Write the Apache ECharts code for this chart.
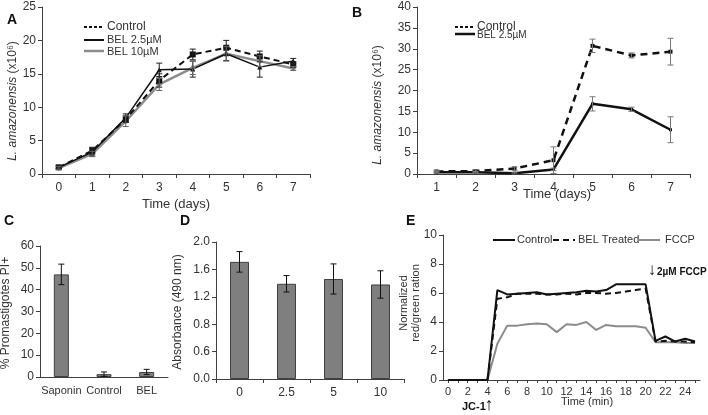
<!DOCTYPE html>
<html><head><meta charset="utf-8">
<script src="https://cdn.jsdelivr.net/npm/echarts@6/dist/echarts.min.js"></script>
<style>html,body{margin:0;padding:0;background:#fff}#c{width:708px;height:415px}</style>
</head><body><div id="c"></div>
<script>
// ---- Panel A ----
const daysA = ['0','1','2','3','4','5','6','7'];
const aControl = [1.0, 3.5, 8.2, 14.0, 17.9, 18.9, 17.6, 16.4];
const aControlErr = [0.2, 0.5, 0.5, 1.0, 0.8, 1.1, 0.8, 0.4];
const aBel25 = [1.0, 3.3, 8.4, 15.6, 15.7, 18.0, 16.0, 16.9];
const aBel25Err = [0.2, 0.6, 0.6, 1.0, 1.2, 1.0, 1.5, 0.4];
const aBel10 = [0.9, 3.0, 7.9, 13.4, 15.9, 18.0, 16.9, 15.8];
const aBel10Err = [0.2, 0.4, 0.8, 0.9, 1.0, 1.1, 0.8, 0.3];
// ---- Panel B ----
const daysB = ['1','2','3','4','5','6','7'];
const bControl = [0.6, 0.7, 1.3, 3.3, 30.7, 28.4, 29.3];
const bControlErr = [0.3, 0.3, 0.4, 3.2, 1.6, 0.6, 3.2];
const bBel25 = [0.4, 0.4, 0.2, 1.1, 16.8, 15.5, 10.6];
const bBel25Err = [0.2, 0.2, 0.2, 0.3, 1.7, 0.5, 3.1];
// ---- Panel C ----
const cCats = ['Saponin','Control','BEL'];
const cVals = [47.0, 1.3, 2.3];
const cErr = [4.7, 1.0, 1.2];
// ---- Panel D ----
const dCats = ['0','2.5','5','10'];
const dVals = [1.71, 1.39, 1.46, 1.38];
const dErr = [0.15, 0.12, 0.22, 0.20];
const dTickLabels = ['0.0','0.6','0.8','1.2','1.6','2.0'];
// ---- Panel E ----
const minutes = ['0','1','2','3','4','5','6','7','8','9','10','11','12','13','14','15','16','17','18','19','20','21','22','23','24','25'];
const eControl = [0,0,0,0,0,6.2,5.9,5.95,6.0,6.05,5.9,5.95,6.0,6.05,6.15,6.1,6.2,6.6,6.6,6.6,6.6,2.7,3.0,2.65,2.85,2.65];
const eBel = [0,0,0,0,0,5.6,5.7,5.95,5.95,5.95,5.9,5.9,5.95,5.9,6.0,6.0,5.95,6.0,6.1,6.2,6.3,2.65,2.7,2.65,2.65,2.6];
const eFccp = [0,0,0,0,0,2.5,3.75,3.75,3.85,3.9,3.85,3.3,3.85,3.8,4.0,3.45,3.8,3.7,3.7,3.7,3.6,2.6,2.6,2.6,2.55,2.55];

const FONT = 'Liberation Sans, Arial, sans-serif';
const AX = '#404040';
const TXT = '#333';

function errData(vals, errs){ return vals.map((v,i)=>[i, v-errs[i], v+errs[i]]); }
function errSeries(xi, yi, vals, errs, color, cap){
  return {type:'custom', xAxisIndex:xi, yAxisIndex:yi, z:5,
    data: errData(vals, errs), encode:{x:0, y:[1,2]},
    renderItem:function(params, api){
      const x = api.value(0);
      const p1 = api.coord([x, api.value(2)]);
      const p2 = api.coord([x, api.value(1)]);
      const w = cap || 6;
      const st = {stroke: color, lineWidth: 1};
      return {type:'group', children:[
        {type:'line', shape:{x1:p1[0],y1:p1[1],x2:p2[0],y2:p2[1]}, style:st},
        {type:'line', shape:{x1:p1[0]-w/2,y1:p1[1],x2:p1[0]+w/2,y2:p1[1]}, style:st},
        {type:'line', shape:{x1:p2[0]-w/2,y1:p2[1],x2:p2[0]+w/2,y2:p2[1]}, style:st}
      ]};
    }};
}
function catAxis(gi, data, extra){
  return Object.assign({type:'category', gridIndex:gi, data:data,
    axisLine:{lineStyle:{color:AX, width:1}},
    axisTick:{show:true, lineStyle:{color:AX}, length:4},
    axisLabel:{color:TXT, fontFamily:FONT, fontSize:12, margin:8, interval:0}}, extra||{});
}
function valAxis(gi, min, max, interval, extra){
  return Object.assign({type:'value', gridIndex:gi, min:min, max:max, interval:interval,
    axisLine:{show:true, lineStyle:{color:AX, width:1}},
    axisTick:{show:true, lineStyle:{color:AX}, length:4},
    splitLine:{show:false},
    axisLabel:{color:TXT, fontFamily:FONT, fontSize:12, margin:6}}, extra||{});
}

const chart = echarts.init(document.getElementById('c'), null, {renderer:'canvas'});

const txt = (x, y, text, opt) => ({type:'text', x:x, y:y, style:Object.assign({text:text, fill:TXT, font:'12px '+FONT}, (opt&&opt.style)||{})});
const seg = (x1,y1,x2,y2,color,w,dash) => ({type:'line', shape:{x1,y1,x2,y2}, style:{stroke:color, lineWidth:w, lineDash:dash||null}});

const option = {
  animation:false,
  backgroundColor:'#fff',
  grid:[
    {left:42, top:7, width:268, height:167},
    {left:417, top:7, width:273, height:167},
    {left:40, top:246, width:128, height:131},
    {left:216, top:242, width:188, height:137},
    {left:443, top:235, width:257, height:145}
  ],
  xAxis:[
    catAxis(0, daysA),
    catAxis(1, daysB),
    catAxis(2, cCats, {axisTick:{show:false}, axisLabel:{color:TXT, fontFamily:FONT, fontSize:11, margin:8, interval:0, hideOverlap:false}}),
    catAxis(3, dCats),
    catAxis(4, minutes, {axisTick:{show:true, alignWithLabel:true, interval:0, lineStyle:{color:AX}, length:3},
      axisLabel:{color:TXT, fontFamily:FONT, fontSize:11, margin:6, interval:1}})
  ],
  yAxis:[
    valAxis(0, 0, 25, 5),
    valAxis(1, 0, 40, 5),
    valAxis(2, 0, 60, 10),
    valAxis(3, 0, 2.0, 0.4, {axisLabel:{color:TXT, fontFamily:FONT, fontSize:12, margin:6,
      formatter:function(v){ return dTickLabels[Math.round(v/0.4)]; }}}),
    valAxis(4, 0, 10, 2)
  ],
  series:[
    // A
    {type:'line', xAxisIndex:0, yAxisIndex:0, data:aBel10, symbol:'diamond', symbolSize:6,
      lineStyle:{color:'#8c8c8c', width:2.5}, itemStyle:{color:'#8c8c8c'}, z:3},
    {type:'line', xAxisIndex:0, yAxisIndex:0, data:aBel25, symbol:'triangle', symbolSize:5,
      lineStyle:{color:'#111', width:1.5}, itemStyle:{color:'#111'}, z:3},
    {type:'line', xAxisIndex:0, yAxisIndex:0, data:aControl, symbol:'rect', symbolSize:6,
      lineStyle:{color:'#111', width:2, type:[6,4]}, itemStyle:{color:'#111'}, z:4},
    errSeries(0,0,aControl,aControlErr,'#222',6),
    errSeries(0,0,aBel25,aBel25Err,'#222',6),
    errSeries(0,0,aBel10,aBel10Err,'#666',6),
    // B
    {type:'line', xAxisIndex:1, yAxisIndex:1, data:bControl, symbol:'rect', symbolSize:4,
      lineStyle:{color:'#111', width:2.5, type:[7,5]}, itemStyle:{color:'#111'}, z:3},
    {type:'line', xAxisIndex:1, yAxisIndex:1, data:bBel25, symbol:'rect', symbolSize:3,
      lineStyle:{color:'#111', width:2.5}, itemStyle:{color:'#111'}, z:3},
    errSeries(1,1,bControl,bControlErr,'#777',6),
    errSeries(1,1,bBel25,bBel25Err,'#777',6),
    // C
    {type:'bar', xAxisIndex:2, yAxisIndex:2, data:cVals, barWidth:15,
      itemStyle:{color:'#7f7f7f', borderColor:'#404040', borderWidth:1}},
    errSeries(2,2,cVals,cErr,'#111',6),
    // D
    {type:'bar', xAxisIndex:3, yAxisIndex:3, data:dVals, barWidth:19,
      itemStyle:{color:'#7f7f7f', borderColor:'#404040', borderWidth:1}},
    errSeries(3,3,dVals,dErr,'#111',6),
    // E
    {type:'line', xAxisIndex:4, yAxisIndex:4, data:eFccp, symbol:'none',
      lineStyle:{color:'#8c8c8c', width:2}, z:2},
    {type:'line', xAxisIndex:4, yAxisIndex:4, data:eBel, symbol:'none',
      lineStyle:{color:'#111', width:2, type:[6,4]}, z:3},
    {type:'line', xAxisIndex:4, yAxisIndex:4, data:eControl, symbol:'none',
      lineStyle:{color:'#111', width:2}, z:4}
  ],
  graphic:[
    // panel letters
    txt(7, 13, 'A', {style:{font:'bold 14px '+FONT, fill:'#111'}}),
    txt(352, 6, 'B', {style:{font:'bold 14px '+FONT, fill:'#111'}}),
    txt(4, 214, 'C', {style:{font:'bold 14px '+FONT, fill:'#111'}}),
    txt(180, 214, 'D', {style:{font:'bold 14px '+FONT, fill:'#111'}}),
    txt(406, 214, 'E', {style:{font:'bold 14px '+FONT, fill:'#111'}}),
    // A axis titles
    {type:'text', x:7, y:101, rotation:Math.PI/2, style:{text:'{i|L. amazonensis} (x10⁶)', fill:TXT, font:'12px '+FONT, align:'center', verticalAlign:'top',
      rich:{i:{fontStyle:'italic', fontSize:12, fontFamily:FONT, fill:TXT}}}},
    txt(176, 204, 'Time (days)', {style:{font:'13px '+FONT, align:'center', verticalAlign:'middle'}}),
    // A legend
    seg(84,27,104,27,'#111',2,[3,2]), txt(107,27,'Control',{style:{font:'12px '+FONT, verticalAlign:'middle'}}),
    seg(84,40,104,40,'#111',2), txt(107,40,'BEL 2.5µM',{style:{font:'11px '+FONT, verticalAlign:'middle'}}),
    seg(84,51,104,51,'#8c8c8c',2.5), txt(107,52,'BEL 10µM',{style:{font:'11px '+FONT, verticalAlign:'middle'}}),
    // B axis titles
    {type:'text', x:372, y:105, rotation:Math.PI/2, style:{text:'{i|L. amazonensis} (x10⁶)', fill:TXT, font:'12px '+FONT, align:'center', verticalAlign:'top',
      rich:{i:{fontStyle:'italic', fontSize:12, fontFamily:FONT, fill:TXT}}}},
    txt(557, 194, 'Time (days)', {style:{font:'13px '+FONT, align:'center', verticalAlign:'middle'}}),
    // B legend
    seg(455,27,475,27,'#111',2,[3,2]), txt(477,27,'Control',{style:{font:'12px '+FONT, verticalAlign:'middle'}}),
    seg(455,34,475,34,'#111',2.5), txt(477,35,'BEL 2.5µM',{style:{font:'10px '+FONT, verticalAlign:'middle'}}),
    // C / D titles
    {type:'text', x:0, y:313, rotation:Math.PI/2, style:{text:'% Promastigotes PI+', fill:TXT, font:'12px '+FONT, align:'center', verticalAlign:'top'}},
    {type:'text', x:172, y:312, rotation:Math.PI/2, style:{text:'Absorbance (490 nm)', fill:TXT, font:'12px '+FONT, align:'center', verticalAlign:'top'}},
    // E titles
    {type:'text', x:398, y:303, rotation:Math.PI/2, style:{text:'Normalized', fill:TXT, font:'11px '+FONT, align:'center', verticalAlign:'top'}},
    {type:'text', x:410, y:303, rotation:Math.PI/2, style:{text:'red/green ration', fill:TXT, font:'11px '+FONT, align:'center', verticalAlign:'top'}},
    txt(587, 402, 'Time (min)', {style:{font:'11px '+FONT, align:'center', verticalAlign:'middle'}}),
    // E legend
    seg(493,240,515,240,'#111',2), txt(517,240,'Control',{style:{font:'11px '+FONT, verticalAlign:'middle'}}),
    seg(553,240,575,240,'#111',2,[6,4]), txt(578,240,'BEL Treated',{style:{font:'11px '+FONT, verticalAlign:'middle'}}),
    seg(638,240,660,240,'#8c8c8c',2), txt(665,240,'FCCP',{style:{font:'11px '+FONT, verticalAlign:'middle'}}),
    // E annotations
    txt(462, 407, 'JC-1', {style:{font:'bold 11px '+FONT, fill:'#111', verticalAlign:'middle'}}),
    txt(489, 405, '↑', {style:{font:'18px '+FONT, fill:'#111', align:'center', verticalAlign:'middle'}}),
    txt(652, 270, '↓', {style:{font:'17px '+FONT, fill:'#111', align:'center', verticalAlign:'middle'}}),
    txt(657, 272, '2µM FCCP', {style:{font:'bold 10px '+FONT, fill:'#111', verticalAlign:'middle'}})
  ]
};
chart.setOption(option);
</script></body></html>
